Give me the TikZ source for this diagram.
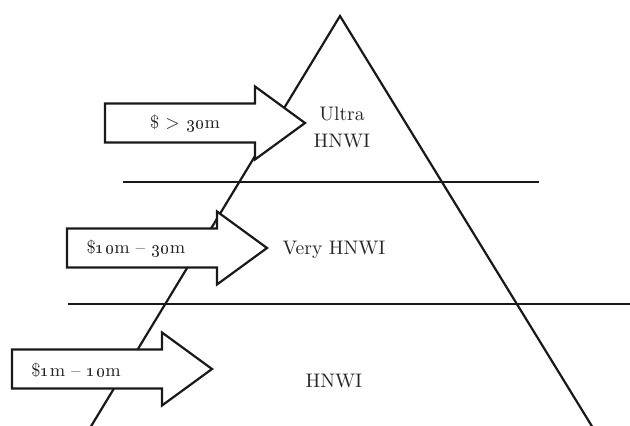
\documentclass[tikz,border=0pt]{standalone}
\usepackage{xcolor}
\usepackage{tikz}

\begin{document}
\begin{tikzpicture}[x=0.5pt,y=-0.5pt,line join=miter,
      edge/.style={draw=black!90,line width=1.1pt},
      pointer/.style={draw=black!90,fill=white,line width=1.1pt},
      tier/.style={align=center,text=black!85,font=\fontsize{9.8}{13.5}\selectfont},
      price/.style={text=black!85,font=\fontsize{9}{11}\selectfont}]

    \useasboundingbox (0,0) rectangle (630,426);

    % pyramid and the two cuts
    \coordinate (top) at (340,16);
    \coordinate (bl) at (90,428);
    \coordinate (br) at (593,428);
    \coordinate (u1) at (123,182);
    \coordinate (u2) at (539,182);
    \coordinate (m1) at (68,304);
    \coordinate (m2) at (630,304);

    \draw[edge] (bl) -- (top) -- (br);
    \draw[edge] (u1) -- (u2);
    \draw[edge] (m1) -- (m2);

    % arrows (body centres)
    \coordinate (a1) at (180,123);
    \coordinate (a2) at (142,248);
    \coordinate (a3) at (87,369);

    \foreach \a in {a1,a2,a3}
        \draw[pointer] ([shift={(-75,-19.5)}]\a) -- ++(150,0) -- ++(0,-17)
            -- ++(50,36.5) -- ++(-50,36.5) -- ++(0,-17) -- ++(-150,0) -- cycle;

    \node[price] (p1) at (185,124) {\$ > \oldstylenums{30}m};
    \node[price] (p2) at (136,249) {\$\oldstylenums{10}m -- \oldstylenums{30}m};
    \node[price] (p3) at (76,370) {\$\oldstylenums{1}m -- \oldstylenums{10}m};

    \node[tier] (t1) at (342,127) {Ultra\\HNWI};
    \node[tier] (t2) at (334,250) {Very HNWI};
    \node[tier] (t3) at (334,381) {HNWI};
\end{tikzpicture}
\end{document}
